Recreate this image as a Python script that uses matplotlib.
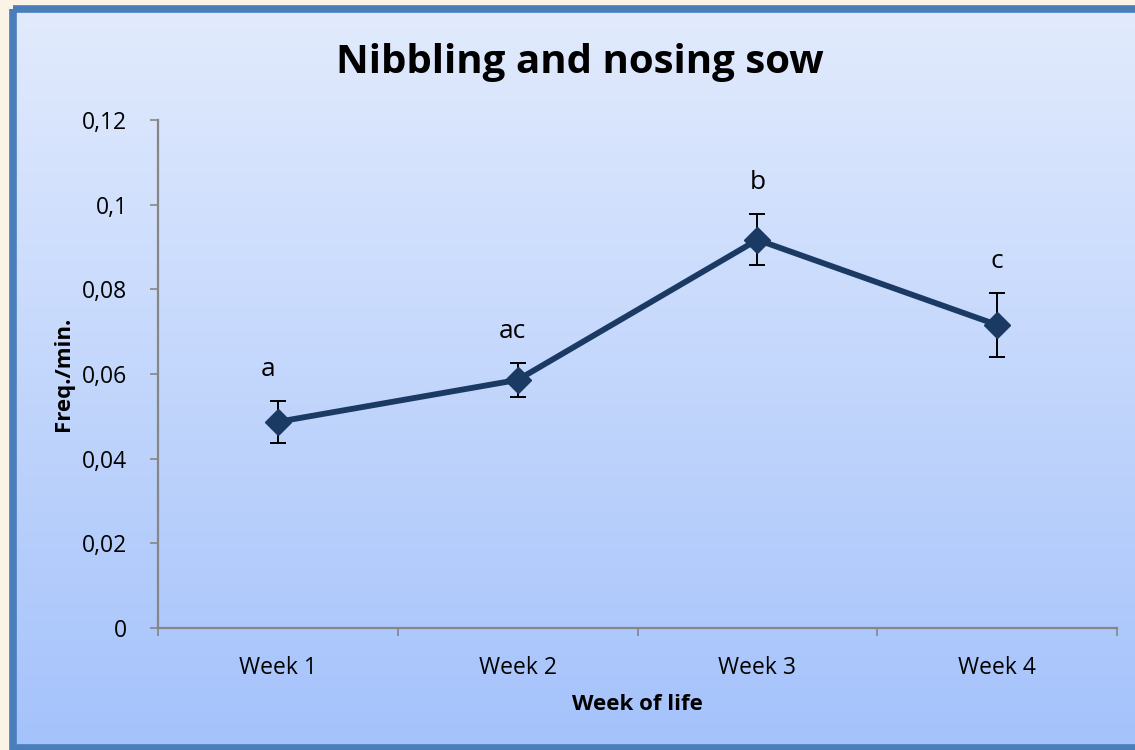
import numpy as np
import matplotlib.pyplot as plt
from matplotlib.patches import Rectangle

# Data
weeks = ['Week 1', 'Week 2', 'Week 3', 'Week 4']
freq = [0.0487, 0.0586, 0.0917, 0.0716]
err = [0.0050, 0.0040, 0.0060, 0.0076]
letters = ['a', 'ac', 'b', 'c']
y_ticks = [0, 0.02, 0.04, 0.06, 0.08, 0.1, 0.12]
y_labels = ['0', '0,02', '0,04', '0,06', '0,08', '0,1', '0,12']

W, H = 1135, 750
fig = plt.figure(figsize=(W / 100, H / 100), dpi=100)
fig.patch.set_facecolor('#fbf3e6')

# background: chart box with vertical gradient and blue border
bg = fig.add_axes([0, 0, 1, 1])
bg.set_xlim(0, W)
bg.set_ylim(H, 0)
bg.axis('off')
top = np.array([0xe2, 0xeb, 0xfd]) / 255
bot = np.array([0xa4, 0xc2, 0xfb]) / 255
t = np.linspace(0, 1, 256)[:, None]
grad = (top * (1 - t) + bot * t)[:, None, :]
bg.imshow(grad, extent=[12, 1140, 748, 9], aspect='auto', zorder=0)
bg.add_patch(Rectangle((12.5, 9), 1140, 738.5, fill=False, ec='#4a7ebb', lw=5.5, zorder=1))

ax = fig.add_axes([158 / W, (H - 628) / H, (1117 - 158) / W, (628 - 120) / H])
ax.patch.set_alpha(0)
x = np.arange(len(weeks))

ax.errorbar(x, freq, yerr=err, fmt='none', ecolor='black', elinewidth=1.4, capsize=6, capthick=1.4, zorder=2)
ax.plot(x, freq, color='#1b3a63', lw=4.2, marker='D', ms=13.5, zorder=3)
for xi, yi, e, s in zip(x, freq, err, letters):
    ax.text(xi - (0.04 if s == 'a' else 0.02 if s == 'ac' else 0), yi + e + 0.0045, s,
            ha='center', va='bottom', fontsize=19, family='Open Sans')

ax.set_xlim(-0.5, 3.5)
ax.set_ylim(0, 0.12)
ax.set_yticks(y_ticks)
ax.set_yticklabels(y_labels, fontsize=16.5, family='Open Sans')
ax.set_xticks(np.arange(-0.5, 4, 1))
ax.set_xticklabels([])
ax.set_xticks(x, minor=True)
ax.set_xticklabels(weeks, minor=True, fontsize=16.5, family='Open Sans')
ax.tick_params(axis='x', which='minor', length=0, pad=20)
ax.tick_params(axis='x', which='major', length=6, color='#868686', width=1.2)
ax.tick_params(axis='y', length=6, color='#868686', width=1.2, pad=16)
for side in ['top', 'right']:
    ax.spines[side].set_visible(False)
for side in ['left', 'bottom']:
    ax.spines[side].set_color('#868686')
    ax.spines[side].set_linewidth(1.6)

ax.set_xlabel('Week of life', fontsize=16, fontweight='bold', family='Open Sans', labelpad=10)
ax.yaxis.set_label_coords(-(158 - 63) / (1117 - 158), 0.5)
ax.set_ylabel('Freq./min.', fontsize=16, fontweight='bold', family='Open Sans', va='center')
fig.text(580 / W, 1 - 62 / H, 'Nibbling and nosing sow', ha='center', va='center',
         fontsize=29, fontweight='bold', family='Open Sans')

fig.savefig('out.png', dpi=100, facecolor=fig.get_facecolor())
